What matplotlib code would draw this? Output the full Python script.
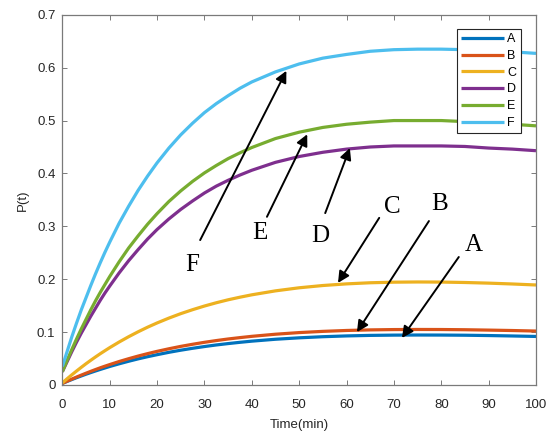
import matplotlib
matplotlib.use("Agg")
import matplotlib.pyplot as plt
from matplotlib.ticker import FixedLocator, FuncFormatter

# Sampling times (min)
t = [0, 1, 2, 3, 4, 5, 6, 7, 8, 9, 10, 12, 14, 16, 18, 20,
     22.5, 25, 27.5, 30, 32.5, 35, 37.5, 40,
     45, 50, 55, 60, 65, 70, 75, 80, 85, 90, 95, 100]

# P(t) for each case
p_a = [0.003, 0.0067, 0.0103, 0.0138, 0.0171, 0.0204, 0.0235, 0.0265, 0.0294, 0.0322, 0.0350,
       0.0401, 0.0449, 0.0494, 0.0535, 0.0573,
       0.0618, 0.0658, 0.0694, 0.0727, 0.0757, 0.0783, 0.0807, 0.0829,
       0.0865, 0.0892, 0.0913, 0.0928, 0.0938, 0.0943, 0.0945, 0.0944, 0.0941, 0.0935, 0.0927, 0.0918]
p_b = [0.003, 0.0071, 0.0111, 0.0150, 0.0187, 0.0223, 0.0258, 0.0292, 0.0325, 0.0356, 0.0386,
       0.0444, 0.0497, 0.0547, 0.0593, 0.0636,
       0.0685, 0.0730, 0.0770, 0.0807, 0.0840, 0.0870, 0.0896, 0.0920,
       0.0960, 0.0991, 0.1014, 0.1031, 0.1042, 0.1048, 0.1050, 0.1049, 0.1045, 0.1038, 0.1030, 0.1020]
p_c = [0.004, 0.0117, 0.0192, 0.0264, 0.0334, 0.0402, 0.0467, 0.0530, 0.0591, 0.0649, 0.0706,
       0.0813, 0.0913, 0.1006, 0.1093, 0.1173,
       0.1265, 0.1349, 0.1424, 0.1493, 0.1555, 0.1611, 0.1660, 0.1705,
       0.1780, 0.1838, 0.1881, 0.1912, 0.1933, 0.1944, 0.1948, 0.1946, 0.1938, 0.1926, 0.1910, 0.1891]
p_d = [0.025, 0.044, 0.063, 0.081, 0.098, 0.114, 0.130, 0.145, 0.160, 0.174, 0.187,
       0.212, 0.235, 0.256, 0.276, 0.294,
       0.314, 0.332, 0.348, 0.363, 0.376, 0.387, 0.397, 0.406,
       0.421, 0.432, 0.440, 0.446, 0.450, 0.452, 0.452, 0.452, 0.451, 0.448, 0.446, 0.443]
p_e = [0.025, 0.0465, 0.067, 0.087, 0.106, 0.124, 0.142, 0.159, 0.175, 0.190, 0.205,
       0.233, 0.259, 0.282, 0.304, 0.324,
       0.347, 0.367, 0.385, 0.401, 0.415, 0.428, 0.439, 0.449,
       0.466, 0.478, 0.487, 0.493, 0.497, 0.500, 0.500, 0.500, 0.498, 0.496, 0.493, 0.490]
p_f = [0.035, 0.063, 0.091, 0.117, 0.142, 0.165, 0.188, 0.210, 0.231, 0.251, 0.270,
       0.306, 0.338, 0.368, 0.395, 0.420,
       0.448, 0.473, 0.495, 0.515, 0.532, 0.547, 0.561, 0.573,
       0.592, 0.607, 0.618, 0.625, 0.631, 0.634, 0.635, 0.635, 0.634, 0.633, 0.630, 0.627]

labels = ["A", "B", "C", "D", "E", "F"]
series = [p_a, p_b, p_c, p_d, p_e, p_f]
colors = ["#0072BD", "#D95319", "#EDB120", "#7E2F8E", "#77AC30", "#4DBEEE"]

x_ticks = [0, 10, 20, 30, 40, 50, 60, 70, 80, 90, 100]
y_ticks = [0, 0.1, 0.2, 0.3, 0.4, 0.5, 0.6, 0.7]

plt.rcParams["font.family"] = ["Liberation Sans", "DejaVu Sans"]

fig = plt.figure(figsize=(5.54, 4.32), dpi=100)
ax = fig.add_axes([0.1125, 0.1088, 0.855, 0.857])

for y, c, lab in zip(series, colors, labels):
    ax.plot(t, y, color=c, lw=2.3, label=lab, solid_capstyle="butt",
            solid_joinstyle="round")

ax.set_xlim(0, 100)
ax.set_ylim(0, 0.7)
ax.xaxis.set_major_locator(FixedLocator(x_ticks))
ax.yaxis.set_major_locator(FixedLocator(y_ticks))
ax.yaxis.set_major_formatter(FuncFormatter(lambda v, pos: f"{v:g}"))

axis_col = "#7a7a7a"
text_col = "#262626"
for s in ax.spines.values():
    s.set_color(axis_col)
    s.set_linewidth(0.9)
ax.tick_params(direction="in", top=True, right=True, length=3.5,
               width=0.7, color=axis_col, labelcolor=text_col, labelsize=9.5)
ax.tick_params(axis="x", pad=10)
ax.tick_params(axis="y", pad=5)

ax.set_xlabel("Time(min)", fontsize=9.5, color=text_col, labelpad=6)
ax.set_ylabel("P(t)", fontsize=9.5, color=text_col, labelpad=6)

leg = ax.legend(loc="upper right", bbox_to_anchor=(0.968, 0.962),
                borderaxespad=0, fancybox=False, fontsize=9,
                handlelength=3.4, handletextpad=0.3, labelspacing=0.38,
                borderpad=0.35, framealpha=1)
leg.get_frame().set_edgecolor(text_col)
leg.get_frame().set_linewidth(0.8)
for line in leg.get_lines():
    line.set_linewidth(2.3)

# Arrow annotations: (label, text position, arrow start, arrow tip) in data units
notes = [
    ("F", (27.4, 0.227), (29.1, 0.274), (47.3, 0.594)),
    ("E", (41.6, 0.287), (43.2, 0.318), (51.7, 0.474)),
    ("D", (54.4, 0.282), (55.5, 0.325), (60.7, 0.448)),
    ("C", (69.6, 0.336), (66.9, 0.316), (58.2, 0.193)),
    ("B", (79.7, 0.342), (77.4, 0.310), (62.2, 0.100)),
    ("A", (86.9, 0.265), (83.7, 0.242), (71.7, 0.089)),
]
for lab, txt, start, tip in notes:
    ax.annotate("", xy=tip, xytext=start,
                arrowprops=dict(arrowstyle="-|>", color="black", lw=1.4,
                                mutation_scale=17, shrinkA=0, shrinkB=0))
    ax.text(txt[0], txt[1], lab, fontsize=18, ha="center", va="center",
            family=["Liberation Serif", "DejaVu Serif"], color="black")

fig.savefig("out.png", dpi=100)
